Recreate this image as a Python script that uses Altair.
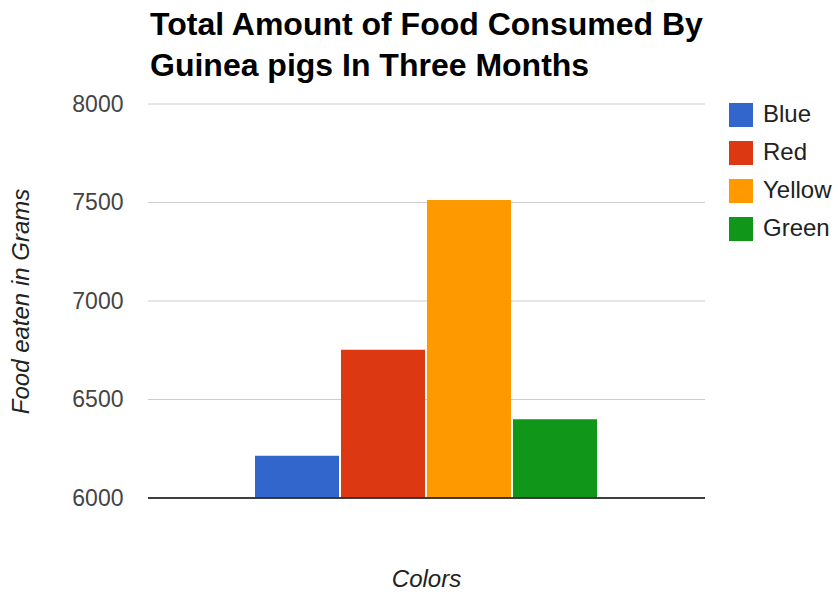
import altair as alt
import pandas as pd

categories = ["Blue", "Red", "Yellow", "Green"]
values = [6215, 6753, 7513, 6400]
colors = ["#3366CC", "#DC3912", "#FF9900", "#109618"]
grid_values = [6500, 7000, 7500, 8000]
tick_values = [6000, 6500, 7000, 7500, 8000]

df = pd.DataFrame({"color": categories, "grams": values})
grid_df = pd.DataFrame({"g": grid_values})

FONT = "Liberation Sans"
Y_SCALE = alt.Scale(domain=[6000, 8000], zero=False, nice=False)
Y_AXIS = alt.Axis(
    title="Food eaten in Grams",
    values=tick_values,
    format="d",
    ticks=False,
    domain=False,
    grid=False,
    labelFont=FONT,
    labelFontSize=23,
    labelColor="#444444",
    labelPadding=25,
    titleFont=FONT,
    titleFontSize=24,
    titleFontStyle="italic",
    titleFontWeight="normal",
    titleColor="#222222",
    titlePadding=38,
)

grid = (
    alt.Chart(grid_df)
    .mark_rule(color="#CCCCCC", strokeWidth=1)
    .encode(
        x=alt.value(0),
        x2=alt.value(557),
        y=alt.Y("g:Q", scale=Y_SCALE, axis=Y_AXIS, title="Food eaten in Grams"),
    )
)

bars = (
    alt.Chart(df)
    .mark_bar(clip=True)
    .encode(
        x=alt.X(
            "color:N",
            sort=categories,
            scale=alt.Scale(paddingInner=0.023, paddingOuter=0, range=[107, 449]),
            axis=alt.Axis(
                title="Colors",
                labels=False,
                ticks=False,
                domain=False,
                grid=False,
                titleFont=FONT,
                titleFontSize=24,
                titleFontStyle="italic",
                titleFontWeight="normal",
                titleColor="#222222",
                titlePadding=69,
                titleX=278,
            ),
        ),
        y=alt.Y("grams:Q", scale=Y_SCALE, axis=Y_AXIS, title="Food eaten in Grams"),
        color=alt.Color(
            "color:N",
            scale=alt.Scale(domain=categories, range=colors),
            legend=alt.Legend(
                title=None,
                orient="none",
                legendX=581,
                legendY=-1,
                padding=0,
                symbolType="square",
                symbolSize=576,
                symbolStrokeWidth=0,
                symbolOpacity=1,
                labelFont=FONT,
                labelFontSize=24,
                labelColor="#222222",
                labelOffset=10,
                rowPadding=14,
            ),
        ),
    )
)

baseline = (
    alt.Chart(df)
    .mark_rule(color="#333333", strokeWidth=1)
    .encode(
        x=alt.value(0),
        x2=alt.value(557),
        y=alt.datum(6000, type="quantitative", scale=Y_SCALE, axis=Y_AXIS, title="Food eaten in Grams"),
    )
)

final = (
    alt.layer(grid, bars, baseline)
    .properties(
        width=557,
        height=394,
        background="white",
        title=alt.TitleParams(
            text=["Total Amount of Food Consumed By", "Guinea pigs In Three Months"],
            anchor="start",
            frame="group",
            font=FONT,
            fontSize=32,
            fontWeight="bold",
            color="#000000",
            lineHeight=41,
            offset=10,
            dx=2,
        ),
        autosize=alt.AutoSizeParams(type="none"),
        padding={"left": 148, "top": 104, "right": 133, "bottom": 96},
    )
    .configure_view(stroke="transparent", strokeWidth=0)
)

final.save("out.html", embed_options={"renderer": "svg", "actions": False})
